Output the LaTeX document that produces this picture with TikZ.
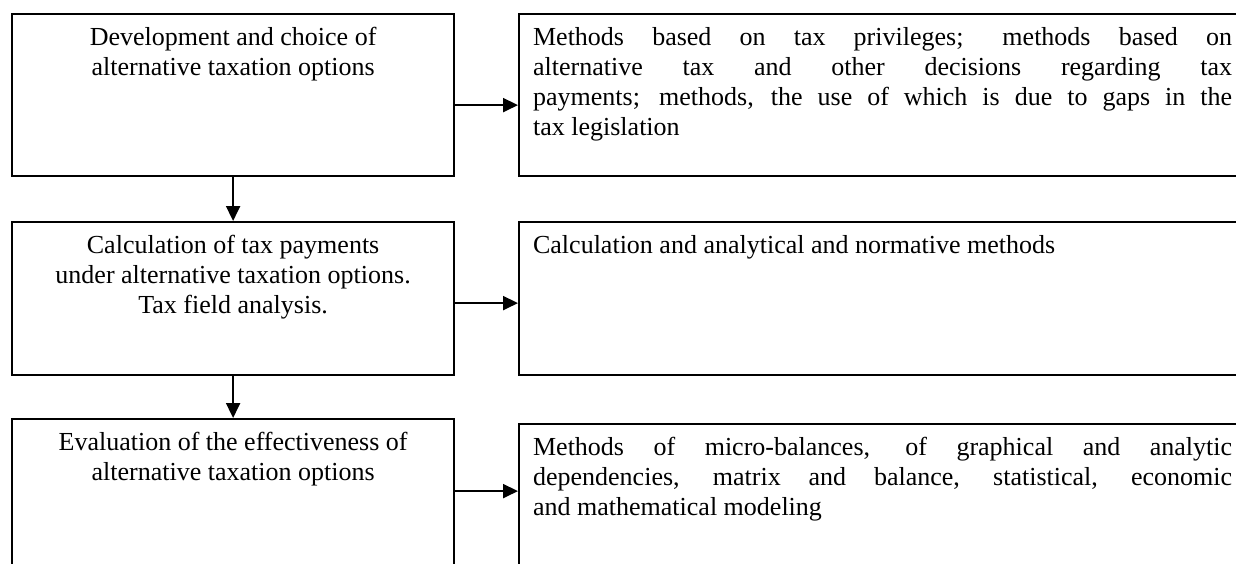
\documentclass[tikz,border=0pt]{standalone}
\usepackage{fontspec}
\setmainfont{Liberation Serif}
\usetikzlibrary{arrows.meta}
\newcommand{\lbox}[3]{\parbox[c][#2][t]{#1}{\centering\rule{0pt}{15.5pt}#3}}
\newcommand{\rbox}[3]{\parbox[c][#2][t]{#1}{\rule{0pt}{15.5pt}#3}}
\tikzset{
  boxnode/.style={draw, line width=1.1pt, rectangle, anchor=north west, inner xsep=0pt, inner ysep=0pt, font=\fontsize{13pt}{15pt}\selectfont},
  rboxnode/.style={boxnode, inner xsep=7pt},
  arr/.style={line width=1pt, -{Triangle[length=7.5pt,width=7pt]}}
}
\begin{document}
\begin{tikzpicture}[x=0.5pt,y=-0.5pt]
\useasboundingbox (0,0) rectangle (1236,563);
\node[boxnode] (L1) at (11,13) {\lbox{221pt}{81pt}{Development and choice of\\alternative taxation options}};
\node[rboxnode] (R1) at (518,13) {\rbox{349.5pt}{81pt}{Methods based on tax privileges; methods based on\linebreak alternative tax and other decisions regarding tax\linebreak payments; methods, the use of which is due to gaps in the\linebreak tax legislation}};
\node[boxnode] (L2) at (11,221) {\lbox{221pt}{76.5pt}{Calculation of tax payments\\under alternative taxation options.\\Tax field analysis.}};
\node[rboxnode] (R2) at (518,221) {\rbox{349.5pt}{76.5pt}{Calculation and analytical and normative methods}};
\node[boxnode] (L3) at (11,418) {\lbox{221pt}{81pt}{Evaluation of the effectiveness of\\alternative taxation options}};
\node[rboxnode] (R3) at (518,423) {\rbox{349.5pt}{78.5pt}{Methods of micro-balances, of graphical and analytic\linebreak dependencies, matrix and balance, statistical, economic\linebreak and mathematical modeling}};
\draw[arr] ([yshift=-5pt]L1.east) -- ([yshift=-5pt]L1.east -| R1.west);
\draw[arr] ([yshift=-2.25pt]L2.east) -- ([yshift=-2.25pt]L2.east -| R2.west);
\draw[arr] ([yshift=4.5pt]L3.east) -- ([yshift=4.5pt]L3.east -| R3.west);
\draw[arr] (L1.south) -- (L2.north);
\draw[arr] (L2.south) -- (L3.north);
\end{tikzpicture}
\end{document}
